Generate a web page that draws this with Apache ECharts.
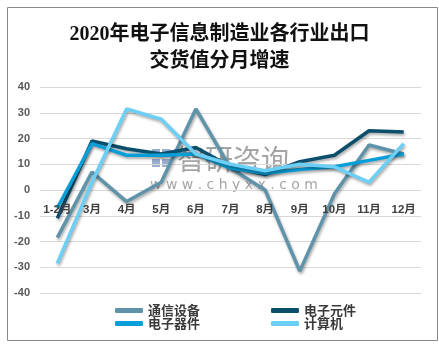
<!DOCTYPE html>
<html>
<head>
<meta charset="utf-8">
<script src="https://cdn.jsdelivr.net/npm/echarts@6/dist/echarts.min.js"></script>
<style>
  html, body { margin: 0; padding: 0; background: #fff; }
  #chart { width: 439px; height: 344px; }
</style>
</head>
<body>
<div id="chart"></div>
<script>
// 月份
const months = ['1-2月', '3月', '4月', '5月', '6月', '7月', '8月', '9月', '10月', '11月', '12月'];
// 各行业出口交货值分月增速（%）
const tongxin = [-18.5, 7, -4.5, 3, 31.5, 8.5, 0, -31.5, -1.5, 17.5, 14];
const yuanjian = [-11, 19, 16, 14, 16.5, 9, 6, 11, 13.5, 23, 22.5];
const qijian = [-7, 18, 13.5, 13.5, 14, 8.5, 6.5, 8, 9, 11.5, 14];
const jisuanji = [-28.5, 3, 31.5, 27.5, 14, 10, 7.5, 10, 9, 3, 18];
const yTicks = [-40, -30, -20, -10, 0, 10, 20, 30, 40];

const chart = echarts.init(document.getElementById('chart'));

const gridTop = 87, gridBottom = 51, chartHeight = 344;
const plotHeight = chartHeight - gridTop - gridBottom;
const yMin = yTicks[0], yMax = yTicks[yTicks.length - 1];
// 类目轴放在 0 刻度线处（从网格底边向上平移）
const zeroOffset = -plotHeight * (0 - yMin) / (yMax - yMin);

function lineSeries(name, data, color) {
  return {
    name: name,
    type: 'line',
    data: data,
    symbol: 'none',
    lineStyle: {
      color: color,
      width: 3.5,
      shadowColor: 'rgba(0,0,0,0.35)',
      shadowBlur: 3,
      shadowOffsetX: 1,
      shadowOffsetY: 2
    },
    itemStyle: { color: color }
  };
}

const legendText = { fontSize: 13, fontWeight: 'bold', color: '#3a3a3a', fontFamily: 'Noto Sans CJK SC' };

chart.setOption({
  animation: false,
  backgroundColor: '#fff',
  title: {
    text: '2020年电子信息制造业各行业出口\n交货值分月增速',
    left: 'center',
    top: 16,
    textStyle: {
      fontSize: 20,
      lineHeight: 27,
      fontWeight: 'bold',
      color: '#111',
      fontFamily: 'Liberation Serif, Noto Sans CJK SC'
    }
  },
  legend: [
    {
      orient: 'vertical',
      left: 110,
      top: 299,
      itemWidth: 28,
      itemHeight: 5,
      itemGap: 0,
      icon: 'roundRect',
      textStyle: legendText,
      data: ['通信设备', '电子器件']
    },
    {
      orient: 'vertical',
      left: 266,
      top: 299,
      itemWidth: 28,
      itemHeight: 5,
      itemGap: 0,
      icon: 'roundRect',
      textStyle: legendText,
      data: ['电子元件', '计算机']
    }
  ],
  grid: { left: 40, right: 18, top: gridTop, bottom: gridBottom },
  xAxis: {
    type: 'category',
    data: months,
    boundaryGap: true,
    position: 'bottom',
    offset: zeroOffset,
    zlevel: 1,
    axisLine: { show: false, onZero: false },
    axisTick: { show: false },
    axisLabel: {
      interval: 0,
      margin: 14,
      fontSize: 11.5,
      fontWeight: 'bold',
      color: '#3f3f3f',
      fontFamily: 'Liberation Sans, Noto Sans CJK SC'
    }
  },
  yAxis: {
    type: 'value',
    min: yMin,
    max: yMax,
    interval: 10,
    axisLine: { show: false },
    axisTick: { show: false },
    splitLine: { lineStyle: { color: '#d9d9d9', width: 1 } },
    axisLabel: {
      margin: 10,
      fontSize: 11,
      fontWeight: 'bold',
      color: '#595959',
      fontFamily: 'Liberation Sans'
    }
  },
  series: [
    lineSeries('通信设备', tongxin, '#5e93aa'),
    lineSeries('电子元件', yuanjian, '#0b4f6c'),
    lineSeries('电子器件', qijian, '#089fd9'),
    lineSeries('计算机', jisuanji, '#6ccff5')
  ],
  graphic: [
    {
      type: 'rect',
      left: 5,
      top: 5,
      shape: { width: 430, height: 333 },
      style: { fill: 'none', stroke: '#8a8a8a', lineWidth: 1 },
      silent: true,
      z: 100
    },
    {
      type: 'group',
      left: 150,
      top: 145,
      silent: true,
      z: 100,
      children: [
        { type: 'rect', shape: { x: 2, y: 4, width: 8, height: 8 }, style: { fill: 'rgba(70,110,170,0.55)' } },
        { type: 'rect', shape: { x: 2, y: 14, width: 8, height: 8 }, style: { fill: 'rgba(70,110,170,0.55)' } },
        { type: 'rect', shape: { x: 12, y: 14, width: 8, height: 8 }, style: { fill: 'rgba(70,110,170,0.55)' } },
        { type: 'rect', shape: { x: 12, y: 4, width: 10, height: 8, r: [0, 4, 4, 0] }, style: { fill: 'rgba(70,110,170,0.55)' } },
        {
          type: 'text',
          x: 27,
          y: 0,
          style: {
            text: '智研咨询',
            font: '28px "Noto Sans CJK SC"',
            fill: 'rgba(90,90,90,0.55)'
          }
        },
        {
          type: 'text',
          x: 0,
          y: 33,
          style: {
            text: 'w w w . c h y x x . c o m',
            font: '14px "DejaVu Sans"',
            fill: 'rgba(90,90,90,0.55)'
          }
        }
      ]
    }
  ]
});
</script>
</body>
</html>
